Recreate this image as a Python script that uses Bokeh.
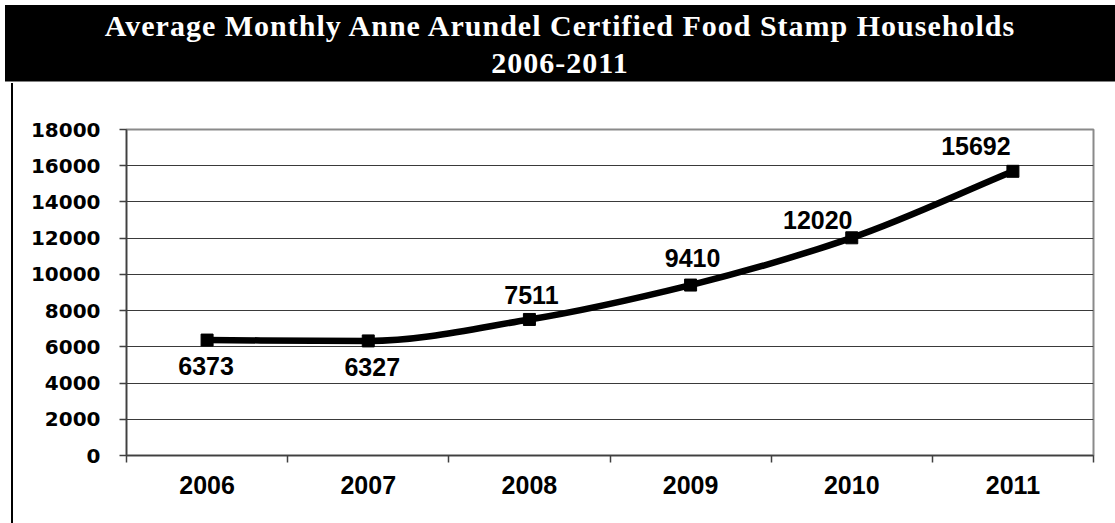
from bokeh.plotting import figure
from bokeh.models import Range1d, FixedTicker, LabelSet, ColumnDataSource, Div
from bokeh.layouts import column, row
from bokeh.core.properties import value
from bokeh.embed import file_html
from bokeh.resources import INLINE

# ---- data ----
years = ["2006", "2007", "2008", "2009", "2010", "2011"]
households = [6373, 6327, 7511, 9410, 12020, 15692]
y_ticks = [0, 2000, 4000, 6000, 8000, 10000, 12000, 14000, 16000, 18000]
title_line1 = "Average Monthly Anne Arundel Certified Food Stamp Households"
title_line2 = "2006-2011"

# ---- styles for labels (screen pixel offsets) ----
label_dx = [-1, 4, 2, 2, -34, -37]
label_dy = [-26, -26, 24, 27, 18, 25]

xs = [i + 0.5 for i in range(len(years))]

p = figure(width=1102, height=440, x_range=Range1d(0, 6), y_range=Range1d(0, 18000),
           output_backend="svg", toolbar_location=None,
           min_border_left=113, min_border_right=22, min_border_top=46, min_border_bottom=68)
p.background_fill_color = "white"
p.border_fill_color = "white"
p.outline_line_color = "#8a8a8a"
p.outline_line_width = 2

# smoothed line: monotone cubic Hermite segments drawn as Bezier curves
n = len(xs)
d = [(households[i + 1] - households[i]) / (xs[i + 1] - xs[i]) for i in range(n - 1)]
m = [d[0]] + [0.0] * (n - 2) + [d[-1]]
for i in range(1, n - 1):
    if d[i - 1] * d[i] > 0:
        m[i] = 2 * d[i - 1] * d[i] / (d[i - 1] + d[i])
bx0, by0, bx1, by1, cx0, cy0, cx1, cy1 = [], [], [], [], [], [], [], []
for i in range(n - 1):
    h = xs[i + 1] - xs[i]
    bx0.append(xs[i]); by0.append(households[i])
    bx1.append(xs[i + 1]); by1.append(households[i + 1])
    cx0.append(xs[i] + h / 3.0); cy0.append(households[i] + m[i] * h / 3.0)
    cx1.append(xs[i + 1] - h / 3.0); cy1.append(households[i + 1] - m[i + 1] * h / 3.0)
p.bezier(x0=bx0, y0=by0, x1=bx1, y1=by1, cx0=cx0, cy0=cy0, cx1=cx1, cy1=cy1,
         line_color="black", line_width=6.5, line_cap="round")
p.scatter(xs, households, marker="square", size=12, color="black")

src = ColumnDataSource(dict(x=xs, y=households, t=[str(v) for v in households],
                            dx=label_dx, dy=label_dy))
labels = LabelSet(x="x", y="y", text="t", source=src, x_offset="dx", y_offset="dy",
                  text_align="center", text_baseline="middle",
                  text_font=value("Liberation Sans"), text_font_style="bold",
                  text_font_size="25px", text_color="black")
p.add_layout(labels)

# axes
p.yaxis.ticker = FixedTicker(ticks=y_ticks)
p.yaxis.major_tick_out = 7
p.yaxis.major_tick_in = 0
p.yaxis.minor_tick_out = 0
p.yaxis.minor_tick_in = 0
p.yaxis.major_label_text_font = "DejaVu Sans"
p.yaxis.major_label_text_font_style = "bold"
p.yaxis.major_label_text_font_size = "20px"
p.yaxis.major_label_text_color = "black"
p.yaxis.major_label_standoff = 19
p.yaxis.axis_line_color = "#404040"
p.yaxis.axis_line_width = 1.5
p.yaxis.major_tick_line_color = "#404040"
p.yaxis.major_tick_line_width = 1.5

p.xaxis.ticker = FixedTicker(ticks=xs, minor_ticks=list(range(len(years) + 1)))
p.xaxis.major_label_overrides = {x: y for x, y in zip(xs, years)}
p.xaxis.major_tick_out = 0
p.xaxis.major_tick_in = 0
p.xaxis.minor_tick_out = 7
p.xaxis.minor_tick_in = 0
p.xaxis.minor_tick_line_color = "#404040"
p.xaxis.minor_tick_line_width = 1.5
p.xaxis.major_label_text_font = "Liberation Sans"
p.xaxis.major_label_text_font_style = "bold"
p.xaxis.major_label_text_font_size = "25px"
p.xaxis.major_label_text_color = "black"
p.xaxis.major_label_standoff = 13
p.xaxis.axis_line_color = "#404040"
p.xaxis.axis_line_width = 1.5

p.xgrid.visible = False
p.ygrid.ticker = FixedTicker(ticks=y_ticks)
p.ygrid.grid_line_color = "#3a3a3a"
p.ygrid.grid_line_width = 1

# header band with the title
header_html = (
    '<div style="width:1110px;height:77px;background-color:black;color:white;'
    'border-bottom:1px solid #808080;font-family:\'Liberation Serif\';font-weight:bold;'
    'font-size:30px;letter-spacing:1px;line-height:37px;text-align:center;padding-top:2px;'
    'box-sizing:border-box;margin:0;">' + title_line1 + '<br>' + title_line2 + '</div>'
)
header = Div(text=header_html, width=1110, height=78, margin=(5, 0, 0, 5))

# left border line of the chart area
left_line = Div(text='<div style="width:2px;height:440px;background-color:black;margin:0;"></div>',
                width=2, height=440, margin=(0, 0, 0, 11))

layout = column(header, row(left_line, p, spacing=0), spacing=0)

open("out.html", "w").write(file_html(layout, INLINE))
